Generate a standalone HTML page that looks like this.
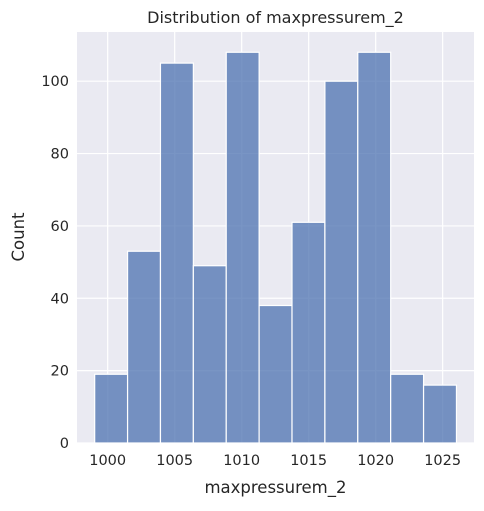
<!DOCTYPE html>
<html><head><meta charset="utf-8"><style>
body{margin:0;background:#fff;}
svg text{font-family:"DejaVu Sans","Liberation Sans",sans-serif;fill:#262626;}
</style></head><body>
<svg id="chart" width="484" height="506" xmlns="http://www.w3.org/2000/svg">
<rect x="77" y="32" width="397" height="411" fill="#eaeaf2"/>
<g id="grid"></g>
<g id="bars"></g>
<g id="ticks"></g>
<text x="275.5" y="23" text-anchor="middle" font-size="16">Distribution of maxpressurem_2</text>
<text x="275.5" y="493" text-anchor="middle" font-size="16.5">maxpressurem_2</text>
<text x="24" y="237" text-anchor="middle" font-size="16.5" transform="rotate(-90 24 237)">Count</text>
</svg>
<script>
const counts=[19,53,105,49,108,38,61,100,108,19,16];
const binStart=999.03, binEnd=1026.03;
const xTicks=[1000,1005,1010,1015,1020,1025];
const yTicks=[0,20,40,60,80,100];
const X0=77,X1=474,Y0=443,Y1=32;
const xmin=997.71,xmax=1027.34,ymax=113.6;
const xs=v=>X0+(v-xmin)/(xmax-xmin)*(X1-X0);
const ys=v=>Y0-v/ymax*(Y0-Y1);
const NS="http://www.w3.org/2000/svg";
const g=document.getElementById('grid'),b=document.getElementById('bars'),t=document.getElementById('ticks');
function mk(tag,attrs,parent){const e=document.createElementNS(NS,tag);for(const k in attrs)e.setAttribute(k,attrs[k]);parent.appendChild(e);return e;}
xTicks.forEach(v=>{
 const l=mk('line',{x1:xs(v),x2:xs(v),y1:Y1,y2:Y0,stroke:'#fff','stroke-width':1.2},g);
 
 
 const tx=mk('text',{x:xs(v),y:Y0+22,'text-anchor':'middle','font-size':14.5},t);
 tx.textContent=v;
 
 
});
yTicks.forEach(v=>{
 const l=mk('line',{x1:X0,x2:X1,y1:ys(v),y2:ys(v),stroke:'#fff','stroke-width':1.2},g);
 
 
 const tx=mk('text',{x:X0-8,y:ys(v)+5,'text-anchor':'end','font-size':14.5},t);
 tx.textContent=v;
 
 
});
const w=(binEnd-binStart)/counts.length;
counts.forEach((c,i)=>{
 const a=binStart+i*w;
 const r=mk('rect',{x:xs(a),y:ys(c),width:xs(a+w)-xs(a),height:ys(0)-ys(c),fill:'rgba(76,114,176,0.75)',stroke:'#fff','stroke-width':1.2},b);
 
 
});
</script>
</body></html>
